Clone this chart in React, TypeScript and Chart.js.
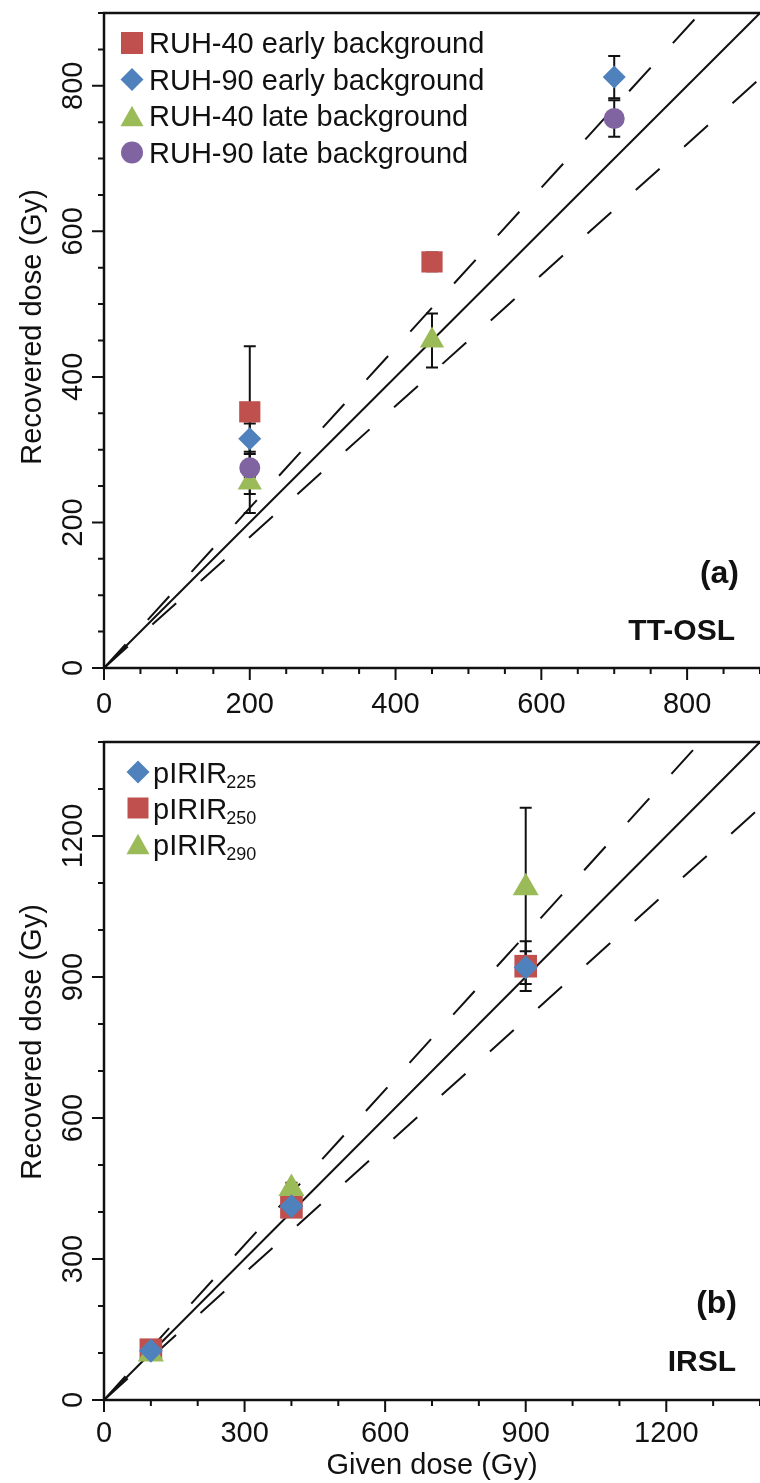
import React, { useEffect, useRef } from "react";
import { Chart, registerables } from "chart.js";

Chart.register(...registerables);

const FONT = '"Liberation Sans", Arial, Helvetica, sans-serif';
const INK = "#111111";

const RED = "#C0504D";
const BLUE = "#4F81BD";
const GREEN = "#9BBB59";
const PURPLE = "#8064A2";

// ---------- Reference lines (1:1 and ±10 %) ----------
const REF_X = [0, 1600];
const REF_Y_ONE = [0, 1600];
const REF_Y_UPPER = [0, 1760];
const REF_Y_LOWER = [0, 1440];

// ---------- Panel (a) TT-OSL ----------
const A_AXIS_MAX = 900;
const A_MAJOR_TICKS = [0, 200, 400, 600, 800];
const A_MINOR_STEP = 50;
const A_MAJOR_STEP = 200;

const A_NAMES = [
  "RUH-40 early background",
  "RUH-90 early background",
  "RUH-40 late background",
  "RUH-90 late background",
];
const A_RUH40_EARLY_X = [200, 450];
const A_RUH40_EARLY_Y = [352, 558];
const A_RUH40_EARLY_ERR = [90, 13];

const A_RUH90_EARLY_X = [200, 700];
const A_RUH90_EARLY_Y = [315, 812];
const A_RUH90_EARLY_ERR = [21, 29];

const A_RUH40_LATE_X = [200, 450];
const A_RUH40_LATE_Y = [255, 450];
const A_RUH40_LATE_ERR = [42, 37];

const A_RUH90_LATE_X = [200, 700];
const A_RUH90_LATE_Y = [275, 755];
const A_RUH90_LATE_ERR = [36, 25];

// ---------- Panel (b) IRSL ----------
const B_AXIS_MAX = 1400;
const B_MAJOR_TICKS = [0, 300, 600, 900, 1200];
const B_MINOR_STEP = 100;
const B_MAJOR_STEP = 300;

const B_NAMES = ["pIRIR", "pIRIR", "pIRIR"];
const B_SUBS = ["225", "250", "290"];
const B_X = [100, 400, 900];
const B_P225_Y = [105, 412, 920];
const B_P225_ERR = [6, 10, 35];
const B_P250_Y = [107, 410, 923];
const B_P250_ERR = [8, 12, 53];
const B_P290_Y = [98, 450, 1090];
const B_P290_ERR = [6, 12, 170];

type Shape = "rect" | "rectRot" | "triangle" | "circle";

interface LegendItem {
  shape: Shape;
  color: string;
  text: string;
  sub?: string;
  size: number;
}

interface PanelSpec {
  max: number;
  majorTicks: number[];
  majorStep: number;
  minorStep: number;
  xLabelOffset: number;
  yTitleCenter: number;
  xTitle?: string;
  xTitleBaseline?: number;
  legend: LegendItem[];
  legendMarkerX: number;
  legendTextX: number;
  legendBaseline0: number;
  legendSpacing: number;
  legendMarkerDy: number;
  tagText: string;
  tagRight: number;
  tagBaseline: number;
  methodText: string;
  methodRight: number;
  methodBaseline: number;
}

function drawShape(ctx: CanvasRenderingContext2D, shape: Shape, x: number, y: number, size: number, color: string) {
  ctx.save();
  ctx.fillStyle = color;
  ctx.beginPath();
  const h = size / 2;
  if (shape === "rect") {
    ctx.rect(x - h, y - h, size, size);
  } else if (shape === "rectRot") {
    ctx.moveTo(x, y - h);
    ctx.lineTo(x + h, y);
    ctx.lineTo(x, y + h);
    ctx.lineTo(x - h, y);
    ctx.closePath();
  } else if (shape === "triangle") {
    const th = size * 0.9;
    ctx.moveTo(x, y - th / 2);
    ctx.lineTo(x + h, y + th / 2);
    ctx.lineTo(x - h, y + th / 2);
    ctx.closePath();
  } else {
    ctx.arc(x, y, h, 0, Math.PI * 2);
  }
  ctx.fill();
  ctx.restore();
}

function makePanelPlugin(spec: PanelSpec) {
  return {
    id: "panelDecor",
    beforeDatasetsDraw(chart: any) {
      const ctx: CanvasRenderingContext2D = chart.ctx;
      const xs = chart.scales.x;
      const ys = chart.scales.y;
      ctx.save();
      ctx.strokeStyle = INK;
      ctx.lineWidth = 2;
      chart.data.datasets.forEach((ds: any) => {
        if (!ds.errors) return;
        ds.data.forEach((pt: any, i: number) => {
          const e = ds.errors[i];
          if (!e) return;
          const px = xs.getPixelForValue(pt.x);
          const yTop = ys.getPixelForValue(pt.y + e);
          const yBot = ys.getPixelForValue(pt.y - e);
          ctx.beginPath();
          ctx.moveTo(px, yTop);
          ctx.lineTo(px, yBot);
          ctx.moveTo(px - 6, yTop);
          ctx.lineTo(px + 6, yTop);
          ctx.moveTo(px - 6, yBot);
          ctx.lineTo(px + 6, yBot);
          ctx.stroke();
        });
      });
      ctx.restore();
    },
    afterDraw(chart: any) {
      const ctx: CanvasRenderingContext2D = chart.ctx;
      const xs = chart.scales.x;
      const ys = chart.scales.y;
      const { left, right, top, bottom } = chart.chartArea;
      ctx.save();
      ctx.strokeStyle = INK;
      ctx.fillStyle = INK;

      // frame (left, top, bottom)
      ctx.lineWidth = 2.5;
      ctx.beginPath();
      ctx.moveTo(right + 2, top);
      ctx.lineTo(left, top);
      ctx.lineTo(left, bottom);
      ctx.lineTo(right + 2, bottom);
      ctx.stroke();

      // ticks
      ctx.lineWidth = 2;
      ctx.beginPath();
      for (let v = 0; v <= spec.max; v += spec.minorStep) {
        const major = v % spec.majorStep === 0;
        const len = major ? 12 : 6;
        const px = xs.getPixelForValue(v);
        ctx.moveTo(px, bottom);
        ctx.lineTo(px, bottom + len);
        const py = ys.getPixelForValue(v);
        ctx.moveTo(left, py);
        ctx.lineTo(left - len, py);
      }
      ctx.stroke();

      // tick labels
      ctx.font = `29px ${FONT}`;
      ctx.textAlign = "center";
      ctx.textBaseline = "alphabetic";
      spec.majorTicks.forEach((v) => {
        ctx.fillText(String(v), xs.getPixelForValue(v), bottom + spec.xLabelOffset);
      });
      spec.majorTicks.forEach((v) => {
        ctx.save();
        ctx.translate(82, ys.getPixelForValue(v));
        ctx.rotate(-Math.PI / 2);
        ctx.fillText(String(v), 0, 0);
        ctx.restore();
      });

      // axis titles
      ctx.save();
      ctx.translate(41, spec.yTitleCenter);
      ctx.rotate(-Math.PI / 2);
      ctx.fillText("Recovered dose (Gy)", 0, 0);
      ctx.restore();
      if (spec.xTitle && spec.xTitleBaseline) {
        ctx.fillText(spec.xTitle, (left + right) / 2, spec.xTitleBaseline);
      }

      // legend
      spec.legend.forEach((item, i) => {
        const base = spec.legendBaseline0 + i * spec.legendSpacing;
        drawShape(ctx, item.shape, spec.legendMarkerX, base - spec.legendMarkerDy, item.size, item.color);
        ctx.fillStyle = INK;
        ctx.textAlign = "left";
        ctx.font = `29px ${FONT}`;
        ctx.fillText(item.text, spec.legendTextX, base);
        if (item.sub) {
          const w = ctx.measureText(item.text).width;
          ctx.font = `18px ${FONT}`;
          ctx.fillText(item.sub, spec.legendTextX + w - 1, base + 5);
        }
      });

      // panel tags
      ctx.fillStyle = INK;
      ctx.textAlign = "right";
      ctx.font = `bold 32px ${FONT}`;
      ctx.fillText(spec.tagText, spec.tagRight, spec.tagBaseline);
      ctx.font = `bold 30px ${FONT}`;
      ctx.fillText(spec.methodText, spec.methodRight, spec.methodBaseline);
      ctx.restore();
    },
  };
}

function pts(xs: number[], ys: number[]) {
  return xs.map((x, i) => ({ x, y: ys[i] }));
}

function refDatasets() {
  const common = {
    showLine: true,
    pointRadius: 0,
    borderColor: INK,
    borderWidth: 2,
    fill: false,
    order: 20,
    clip: 0,
  };
  return [
    { ...common, label: "1:1", data: pts(REF_X, REF_Y_ONE) },
    { ...common, label: "+10%", data: pts(REF_X, REF_Y_UPPER), borderDash: [32, 33] },
    { ...common, label: "-10%", data: pts(REF_X, REF_Y_LOWER), borderDash: [32, 33] },
  ];
}

function markerDs(label: string, data: any[], errors: number[], color: string, shape: Shape, radius: number, order: number) {
  return {
    label,
    data,
    errors,
    showLine: false,
    pointStyle: shape,
    pointRadius: radius,
    pointBackgroundColor: color,
    pointBorderColor: color,
    pointBorderWidth: 0,
    order,
  };
}

function baseOptions(max: number, padBottom: number, padTop: number) {
  return {
    animation: false,
    responsive: false,
    devicePixelRatio: 1,
    events: [],
    layout: { padding: { left: 104, top: padTop, right: 0, bottom: padBottom }, autoPadding: false },
    scales: {
      x: { type: "linear", min: 0, max, display: false },
      y: { type: "linear", min: 0, max, display: false },
    },
    plugins: { legend: { display: false }, tooltip: { enabled: false } },
  };
}

function PanelA() {
  const ref = useRef<HTMLCanvasElement>(null);
  useEffect(() => {
    if (!ref.current) return;
    const spec: PanelSpec = {
      max: A_AXIS_MAX,
      majorTicks: A_MAJOR_TICKS,
      majorStep: A_MAJOR_STEP,
      minorStep: A_MINOR_STEP,
      xLabelOffset: 45,
      yTitleCenter: 327,
      legend: [
        { shape: "rect", color: RED, text: A_NAMES[0], size: 22 },
        { shape: "rectRot", color: BLUE, text: A_NAMES[1], size: 23 },
        { shape: "triangle", color: GREEN, text: A_NAMES[2], size: 23 },
        { shape: "circle", color: PURPLE, text: A_NAMES[3], size: 22 },
      ],
      legendMarkerX: 132,
      legendTextX: 149,
      legendBaseline0: 53,
      legendSpacing: 36.5,
      legendMarkerDy: 10,
      tagText: "(a)",
      tagRight: 739,
      tagBaseline: 583,
      methodText: "TT-OSL",
      methodRight: 735,
      methodBaseline: 640,
    };
    const chart = new Chart(ref.current, {
      type: "scatter",
      data: {
        datasets: [
          markerDs(A_NAMES[0], pts(A_RUH40_EARLY_X, A_RUH40_EARLY_Y), A_RUH40_EARLY_ERR, RED, "rect", 15, 3),
          markerDs(A_NAMES[1], pts(A_RUH90_EARLY_X, A_RUH90_EARLY_Y), A_RUH90_EARLY_ERR, BLUE, "rectRot", 11.5, 2),
          markerDs(A_NAMES[2], pts(A_RUH40_LATE_X, A_RUH40_LATE_Y), A_RUH40_LATE_ERR, GREEN, "triangle", 14, 1),
          markerDs(A_NAMES[3], pts(A_RUH90_LATE_X, A_RUH90_LATE_Y), A_RUH90_LATE_ERR, PURPLE, "circle", 10.5, 0),
          ...refDatasets(),
        ] as any,
      },
      options: baseOptions(A_AXIS_MAX, 728 - 668, 13) as any,
      plugins: [makePanelPlugin(spec) as any],
    });
    return () => chart.destroy();
  }, []);
  return (
    <canvas
      ref={ref}
      width={760}
      height={728}
      style={{ position: "absolute", left: 0, top: 0, width: 760, height: 728, display: "block" }}
    />
  );
}

function PanelB() {
  const ref = useRef<HTMLCanvasElement>(null);
  useEffect(() => {
    if (!ref.current) return;
    const spec: PanelSpec = {
      max: B_AXIS_MAX,
      majorTicks: B_MAJOR_TICKS,
      majorStep: B_MAJOR_STEP,
      minorStep: B_MINOR_STEP,
      xLabelOffset: 42,
      yTitleCenter: 314,
      xTitle: "Given dose (Gy)",
      xTitleBaseline: 746,
      legend: [
        { shape: "rectRot", color: BLUE, text: B_NAMES[0], sub: B_SUBS[0], size: 23 },
        { shape: "rect", color: RED, text: B_NAMES[1], sub: B_SUBS[1], size: 21 },
        { shape: "triangle", color: GREEN, text: B_NAMES[2], sub: B_SUBS[2], size: 23 },
      ],
      legendMarkerX: 138,
      legendTextX: 153,
      legendBaseline0: 55,
      legendSpacing: 36,
      legendMarkerDy: 11,
      tagText: "(b)",
      tagRight: 737,
      tagBaseline: 585,
      methodText: "IRSL",
      methodRight: 736,
      methodBaseline: 643,
    };
    const chart = new Chart(ref.current, {
      type: "scatter",
      data: {
        datasets: [
          markerDs(B_NAMES[0] + B_SUBS[0], pts(B_X, B_P225_Y), B_P225_ERR, BLUE, "rectRot", 12, 0),
          markerDs(B_NAMES[1] + B_SUBS[1], pts(B_X, B_P250_Y), B_P250_ERR, RED, "rect", 16, 2),
          markerDs(B_NAMES[2] + B_SUBS[2], pts(B_X, B_P290_Y), B_P290_ERR, GREEN, "triangle", 15, 1),
          ...refDatasets(),
        ] as any,
      },
      options: baseOptions(B_AXIS_MAX, 755 - 672, 14) as any,
      plugins: [makePanelPlugin(spec) as any],
    });
    return () => chart.destroy();
  }, []);
  return (
    <canvas
      ref={ref}
      width={760}
      height={755}
      style={{ position: "absolute", left: 0, top: 728, width: 760, height: 755, display: "block" }}
    />
  );
}

export default function App() {
  return (
    <div
      style={{
        position: "absolute",
        left: 0,
        top: 0,
        width: 760,
        height: 1483,
        background: "#ffffff",
        overflow: "hidden",
      }}
    >
      <PanelA />
      <PanelB />
    </div>
  );
}
